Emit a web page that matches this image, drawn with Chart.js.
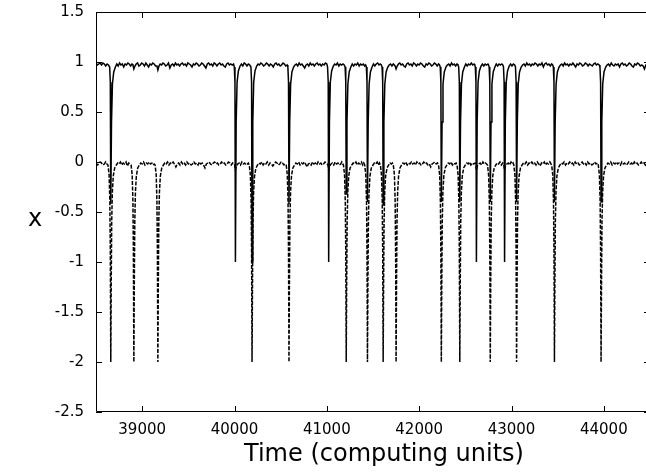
<!DOCTYPE html>
<html>
<head>
<meta charset="utf-8">
<script src="https://cdn.jsdelivr.net/npm/chart.js@4/dist/chart.umd.min.js"></script>
<style>
html,body{margin:0;padding:0;background:#fff;overflow:hidden;width:646px;height:472px;}
canvas{display:block;}
</style>
</head>
<body>
<canvas id="c" width="651" height="472"></canvas>
<script>
const xTicks = [39000, 40000, 41000, 42000, 43000, 44000];
const yTicks = [-2.5, -2, -1.5, -1, -0.5, 0, 0.5, 1, 1.5];
const xTitle = 'Time (computing units)';
const yTitle = 'x';

// solid curve (upper variable), [time, value]
const solidSeries = [
[38500,0.99],[38515,0.97],[38530,0.98],[38545,0.99],[38560,0.97],[38575,0.99],[38590,0.98],[38605,0.96],[38620,0.98],[38635,0.97],
[38648,0.95],[38655,0.8],[38660,-0.42],[38668,0.4],[38678,0.78],[38692,0.9],[38710,0.95],
[38725,0.98],[38740,0.96],[38755,0.99],[38770,0.97],[38785,0.98],[38800,0.95],[38815,0.98],[38830,0.97],[38845,0.99],[38860,0.98],[38875,0.96],[38890,0.98],
[38900,0.97],[38910,0.93],[38922,0.96],
[38935,0.98],[38950,0.99],[38965,0.96],[38980,0.97],[38995,0.99],[39010,0.98],[39025,0.96],[39040,0.99],[39055,0.97],[39070,0.95],[39085,0.98],[39100,0.97],[39115,0.99],[39130,0.98],[39145,0.96],
[39160,0.96],[39170,0.92],[39182,0.96],
[39195,0.98],[39210,0.97],[39225,0.99],[39240,0.98],[39255,0.96],[39270,0.97],[39285,0.99],[39300,0.94],[39315,0.97],[39330,0.98],[39345,0.96],[39360,0.99],[39375,0.97],[39390,0.98],[39405,0.96],[39420,0.98],[39435,0.99],[39450,0.97],[39465,0.98],[39480,0.96],[39495,0.99],[39510,0.98],[39525,0.97],[39540,0.95],[39555,0.98],[39570,0.97],[39585,0.99],[39600,0.98],[39615,0.96],[39630,0.97],[39645,0.99],[39660,0.98],[39675,0.96],[39690,0.94],[39705,0.98],[39720,0.99],[39735,0.97],[39750,0.98],[39765,0.96],[39780,0.99],[39795,0.98],[39810,0.96],[39825,0.98],[39840,0.99],[39855,0.97],[39870,0.98],[39885,0.96],[39900,0.95],[39915,0.98],[39930,0.99],[39945,0.97],[39960,0.98],[39975,0.97],[39990,0.98],
[39998,0.95],[40005,0.8],[40010,-1.0],[40018,0.4],[40028,0.8],[40042,0.91],[40060,0.96],
[40075,0.98],[40090,0.96],[40105,0.99],[40120,0.98],[40135,0.96],[40150,0.98],[40165,0.97],
[40178,0.95],[40185,0.8],[40190,-1.0],[40198,0.4],[40208,0.8],[40222,0.91],[40240,0.96],
[40255,0.98],[40270,0.97],[40285,0.99],[40300,0.98],[40315,0.96],[40330,0.97],[40345,0.99],[40360,0.98],[40375,0.96],[40390,0.98],[40405,0.97],[40420,0.95],[40435,0.98],[40450,0.99],[40465,0.97],[40480,0.98],[40495,0.96],[40510,0.97],[40525,0.99],[40540,0.98],[40555,0.96],[40570,0.97],
[40578,0.95],[40585,0.8],[40590,-0.42],[40598,0.4],[40608,0.78],[40622,0.9],[40640,0.95],
[40655,0.97],[40670,0.98],[40685,0.96],[40700,0.99],[40715,0.97],[40730,0.98],[40745,0.96],[40760,0.94],[40775,0.97],[40790,0.98],[40805,0.96],[40820,0.99],[40835,0.97],[40850,0.98],[40865,0.96],[40880,0.98],[40895,0.99],[40910,0.97],[40925,0.98],[40940,0.96],[40955,0.98],[40970,0.97],[40985,0.99],[41000,0.98],
[41008,0.95],[41015,0.8],[41020,-1.0],[41028,0.4],[41038,0.8],[41052,0.91],[41070,0.96],
[41085,0.98],[41100,0.97],[41115,0.99],[41130,0.96],[41145,0.98],[41160,0.97],[41175,0.98],[41188,0.97],
[41198,0.95],[41205,0.8],[41210,-0.32],[41218,0.4],[41228,0.78],[41242,0.9],[41260,0.95],
[41275,0.98],[41290,0.96],[41305,0.98],[41320,0.97],[41335,0.99],[41350,0.96],[41365,0.98],[41380,0.97],[41395,0.98],[41410,0.96],[41420,0.97],
[41428,0.95],[41435,0.8],[41440,-0.4],[41448,0.4],[41458,0.78],[41472,0.9],[41490,0.95],
[41505,0.98],[41520,0.96],[41535,0.98],[41550,0.99],[41565,0.97],[41578,0.98],[41590,0.97],
[41598,0.95],[41605,0.8],[41610,-0.43],[41618,0.4],[41628,0.78],[41642,0.9],[41660,0.95],
[41675,0.97],[41690,0.98],[41705,0.96],[41720,0.98],[41732,0.97],
[41740,0.96],[41750,0.93],[41762,0.96],
[41775,0.98],[41790,0.99],[41805,0.97],[41820,0.98],[41835,0.96],[41850,0.95],[41865,0.98],[41880,0.99],[41895,0.97],[41910,0.98],[41925,0.96],[41940,0.99],[41955,0.98],[41970,0.96],[41985,0.98],[42000,0.97],[42015,0.99],[42030,0.98],[42045,0.96],[42060,0.95],[42075,0.98],[42090,0.97],[42105,0.99],[42120,0.98],[42135,0.96],[42150,0.97],[42165,0.99],[42180,0.98],[42195,0.96],[42210,0.98],[42220,0.97],
[42228,0.95],[42235,0.8],[42240,-0.4],[42248,0.4],[42258,0.78],[42272,0.9],[42290,0.95],
[42305,0.97],[42320,0.98],[42335,0.96],[42350,0.99],[42365,0.97],[42380,0.98],[42395,0.96],[42410,0.98],[42420,0.97],
[42428,0.95],[42435,0.8],[42440,-0.4],[42448,0.4],[42458,0.78],[42472,0.9],[42490,0.95],
[42505,0.98],[42520,0.96],[42535,0.98],[42550,0.97],[42565,0.99],[42580,0.97],[42595,0.98],[42602,0.97],
[42608,0.95],[42615,0.8],[42620,-1.0],[42628,0.4],[42638,0.8],[42652,0.91],[42670,0.96],
[42685,0.98],[42700,0.96],[42715,0.98],[42730,0.97],[42745,0.98],[42752,0.97],
[42758,0.95],[42765,0.8],[42770,-0.4],[42778,0.4],[42788,0.78],[42802,0.9],[42820,0.95],
[42835,0.98],[42850,0.96],[42865,0.98],[42880,0.97],[42895,0.98],[42906,0.97],
[42913,0.95],[42920,0.8],[42925,-1.0],[42933,0.4],[42943,0.8],[42957,0.91],[42975,0.96],
[42990,0.98],[43005,0.96],[43020,0.98],[43035,0.97],
[43043,0.95],[43050,0.8],[43055,-0.4],[43063,0.4],[43073,0.78],[43087,0.9],[43105,0.95],
[43120,0.97],[43135,0.98],[43150,0.96],[43165,0.99],[43180,0.97],[43195,0.98],[43210,0.96],[43225,0.98],[43240,0.97],[43255,0.99],[43270,0.98],[43285,0.96],[43300,0.98],[43315,0.97],[43330,0.99],[43345,0.95],[43360,0.98],[43375,0.99],[43390,0.97],[43405,0.98],[43420,0.96],[43435,0.98],[43446,0.97],
[43453,0.95],[43460,0.8],[43465,-0.4],[43473,0.4],[43483,0.78],[43497,0.9],[43515,0.95],
[43530,0.97],[43545,0.98],[43560,0.96],[43575,0.99],[43590,0.97],[43605,0.98],[43620,0.96],[43635,0.98],[43650,0.97],[43665,0.99],[43680,0.97],[43695,0.95],[43710,0.98],[43725,0.97],[43740,0.99],[43755,0.98],[43770,0.96],[43785,0.97],[43800,0.99],[43815,0.98],[43830,0.96],[43845,0.98],[43860,0.97],[43875,0.96],[43890,0.98],[43905,0.99],[43920,0.97],[43935,0.98],[43950,0.97],
[43958,0.95],[43965,0.8],[43970,-0.4],[43978,0.4],[43988,0.78],[44002,0.9],[44020,0.95],
[44035,0.97],[44050,0.98],[44065,0.96],[44080,0.99],[44095,0.97],[44110,0.96],[44125,0.98],[44140,0.97],[44155,0.98],[44170,0.95],[44185,0.98],[44200,0.99],[44215,0.97],[44230,0.98],[44245,0.96],[44260,0.97],[44275,0.99],[44290,0.98],[44305,0.96],[44320,0.95],[44335,0.98],[44350,0.97],[44365,0.99],[44380,0.98],[44395,0.96],[44410,0.97],[44425,0.96],[44440,0.93],[44455,0.97],[44470,0.98],[44485,0.97],[44500,0.98]
];

// dashed curve (lower variable), [time, value]
const dashedSeries = [
[38500,-0.01],[38515,-0.03],[38530,-0.02],[38545,0.0],[38560,-0.01],[38575,-0.03],[38590,-0.02],[38605,0.0],[38618,-0.02],
[38630,-0.03],[38642,-0.13],[38650,-0.4],[38655,-0.9],[38660,-2.0],[38665,-1.2],[38670,-0.6],[38677,-0.3],[38687,-0.14],[38702,-0.06],[38720,-0.03],
[38735,-0.01],[38750,-0.02],[38765,0.0],[38780,-0.03],[38795,-0.01],[38810,-0.02],[38825,0.0],[38840,-0.04],[38855,-0.01],[38868,-0.02],
[38880,-0.03],[38892,-0.13],[38900,-0.4],[38905,-0.9],[38910,-2.0],[38915,-1.2],[38920,-0.6],[38927,-0.3],[38937,-0.14],[38952,-0.06],[38970,-0.03],
[38985,-0.01],[39000,-0.02],[39015,0.0],[39030,-0.03],[39045,-0.01],[39060,-0.02],[39075,0.0],[39090,-0.02],[39105,-0.01],[39118,-0.03],[39130,-0.02],
[39140,-0.03],[39152,-0.13],[39160,-0.4],[39165,-0.9],[39170,-2.0],[39175,-1.2],[39180,-0.6],[39187,-0.3],[39197,-0.14],[39212,-0.06],[39230,-0.03],
[39245,-0.01],[39260,-0.02],[39275,0.0],[39290,-0.03],[39305,-0.01],[39320,-0.02],[39335,0.0],[39350,-0.02],[39365,-0.05],[39380,-0.02],[39395,-0.01],[39410,-0.03],[39425,0.0],[39440,-0.02],[39455,-0.01],[39470,-0.03],[39485,0.0],[39500,-0.02],[39515,-0.01],[39530,-0.03],[39545,-0.02],[39560,0.0],[39575,-0.02],[39590,-0.01],[39605,-0.03],[39620,0.0],[39635,-0.02],[39650,-0.01],[39665,-0.03],[39680,-0.06],[39695,-0.02],[39710,-0.01],[39725,0.0],[39740,-0.02],[39755,-0.03],[39770,-0.01],[39785,0.0],[39800,-0.02],[39815,-0.01],[39830,-0.03],[39845,-0.02],[39860,0.0],[39875,-0.02],[39890,-0.01],[39905,-0.03],[39920,-0.02],[39935,0.0],[39950,-0.01],[39965,-0.03],[39980,-0.01],[39992,-0.02],
[40000,-0.02],[40010,-0.08],[40020,-0.04],
[40035,-0.02],[40050,-0.01],[40065,-0.03],[40080,0.0],[40095,-0.02],[40110,-0.01],[40125,-0.03],[40140,-0.02],[40150,-0.01],
[40160,-0.03],[40172,-0.13],[40180,-0.4],[40185,-0.9],[40190,-2.0],[40195,-1.2],[40200,-0.6],[40207,-0.3],[40217,-0.14],[40232,-0.06],[40250,-0.03],
[40265,-0.01],[40280,-0.02],[40295,0.0],[40310,-0.03],[40325,-0.01],[40340,-0.02],[40355,0.0],[40370,-0.03],[40385,-0.01],[40400,-0.02],[40415,-0.04],[40430,-0.02],[40445,0.0],[40460,-0.01],[40475,-0.03],[40490,-0.02],[40505,0.0],[40520,-0.01],[40535,-0.03],[40548,-0.02],
[40560,-0.03],[40572,-0.13],[40580,-0.4],[40585,-0.9],[40590,-2.0],[40595,-1.2],[40600,-0.6],[40607,-0.3],[40617,-0.14],[40632,-0.06],[40650,-0.03],
[40665,-0.01],[40680,-0.02],[40695,0.0],[40710,-0.03],[40725,-0.01],[40740,-0.02],[40755,0.0],[40770,-0.02],[40785,-0.05],[40800,-0.02],[40815,-0.01],[40830,-0.03],[40845,0.0],[40860,-0.02],[40875,-0.01],[40890,-0.03],[40905,0.0],[40920,-0.02],[40935,-0.01],[40950,-0.03],[40965,-0.02],[40980,0.0],[40995,-0.01],[41005,-0.02],
[41012,-0.03],[41020,-0.08],[41030,-0.04],
[41045,-0.02],[41060,-0.01],[41075,-0.03],[41090,0.0],[41105,-0.02],[41120,-0.01],[41135,-0.03],[41150,-0.02],[41162,0.0],[41172,-0.02],
[41180,-0.03],[41192,-0.13],[41200,-0.4],[41205,-0.9],[41210,-2.0],[41215,-1.2],[41220,-0.6],[41227,-0.3],[41237,-0.14],[41252,-0.06],[41270,-0.03],
[41285,-0.01],[41300,-0.02],[41315,0.0],[41330,-0.03],[41345,-0.01],[41360,-0.02],[41375,0.0],[41388,-0.03],[41400,-0.01],
[41410,-0.03],[41422,-0.13],[41430,-0.4],[41435,-0.9],[41440,-2.0],[41445,-1.2],[41450,-0.6],[41457,-0.3],[41467,-0.14],[41482,-0.06],[41500,-0.03],
[41515,-0.01],[41530,-0.02],[41545,0.0],[41558,-0.03],[41570,-0.01],
[41580,-0.03],[41592,-0.13],[41600,-0.4],[41605,-0.9],[41610,-2.0],[41615,-1.2],[41620,-0.6],[41627,-0.3],[41637,-0.14],[41652,-0.06],[41670,-0.03],
[41685,-0.01],[41698,-0.02],[41710,-0.01],
[41720,-0.03],[41732,-0.13],[41740,-0.4],[41745,-0.9],[41750,-2.0],[41755,-1.2],[41760,-0.6],[41767,-0.3],[41777,-0.14],[41792,-0.06],[41810,-0.03],
[41825,-0.01],[41840,-0.02],[41855,0.0],[41870,-0.03],[41885,-0.01],[41900,-0.02],[41915,0.0],[41930,-0.02],[41945,-0.01],[41960,-0.03],[41975,0.0],[41990,-0.02],[42005,-0.01],[42020,-0.03],[42035,-0.02],[42050,0.0],[42065,-0.02],[42080,-0.01],[42095,-0.03],[42110,-0.02],[42125,-0.05],[42140,-0.02],[42155,-0.01],[42170,0.0],[42185,-0.02],[42198,-0.01],
[42210,-0.03],[42222,-0.13],[42230,-0.4],[42235,-0.9],[42240,-2.0],[42245,-1.2],[42250,-0.6],[42257,-0.3],[42267,-0.14],[42282,-0.06],[42300,-0.03],
[42315,-0.01],[42330,-0.02],[42345,0.0],[42360,-0.03],[42375,-0.01],[42388,-0.02],[42400,-0.01],
[42410,-0.03],[42422,-0.13],[42430,-0.4],[42435,-0.9],[42440,-2.0],[42445,-1.2],[42450,-0.6],[42457,-0.3],[42467,-0.14],[42482,-0.06],[42500,-0.03],
[42515,-0.01],[42530,-0.02],[42545,0.0],[42560,-0.03],[42575,-0.01],[42590,-0.02],[42605,-0.01],[42612,-0.02],
[42620,-0.08],[42630,-0.04],
[42645,-0.02],[42660,-0.01],[42675,-0.03],[42690,0.0],[42705,-0.02],[42718,-0.01],[42730,-0.02],
[42740,-0.03],[42752,-0.13],[42760,-0.4],[42765,-0.9],[42770,-2.0],[42775,-1.2],[42780,-0.6],[42787,-0.3],[42797,-0.14],[42812,-0.06],[42830,-0.03],
[42845,-0.01],[42860,-0.02],[42875,0.0],[42890,-0.03],[42905,-0.01],[42915,-0.02],
[42925,-0.08],[42935,-0.04],
[42950,-0.02],[42965,-0.01],[42980,-0.03],[42995,0.0],[43008,-0.02],[43017,-0.01],
[43025,-0.03],[43037,-0.13],[43045,-0.4],[43050,-0.9],[43055,-2.0],[43060,-1.2],[43065,-0.6],[43072,-0.3],[43082,-0.14],[43097,-0.06],[43115,-0.03],
[43130,-0.01],[43145,-0.02],[43160,0.0],[43175,-0.03],[43190,-0.01],[43205,-0.02],[43220,0.0],[43235,-0.02],[43250,-0.01],[43265,-0.03],[43280,0.0],[43295,-0.02],[43310,-0.04],[43325,-0.01],[43340,-0.02],[43355,0.0],[43370,-0.03],[43385,-0.01],[43400,-0.02],[43415,0.0],[43428,-0.02],
[43435,-0.03],[43447,-0.13],[43455,-0.4],[43460,-0.9],[43465,-2.0],[43470,-1.2],[43475,-0.6],[43482,-0.3],[43492,-0.14],[43507,-0.06],[43525,-0.03],
[43540,-0.01],[43555,-0.02],[43570,0.0],[43585,-0.03],[43600,-0.01],[43615,-0.02],[43630,0.0],[43645,-0.02],[43660,-0.01],[43675,-0.03],[43690,0.0],[43705,-0.02],[43720,-0.01],[43735,-0.03],[43750,-0.02],[43765,0.0],[43780,-0.02],[43795,-0.01],[43810,-0.03],[43825,0.0],[43840,-0.02],[43855,-0.01],[43870,-0.03],[43885,-0.02],[43900,0.0],[43915,-0.02],[43930,-0.01],
[43940,-0.03],[43952,-0.13],[43960,-0.4],[43965,-0.9],[43970,-2.0],[43975,-1.2],[43980,-0.6],[43987,-0.3],[43997,-0.14],[44012,-0.06],[44030,-0.03],
[44045,-0.01],[44060,-0.02],[44075,0.0],[44090,-0.03],[44105,-0.01],[44120,-0.02],[44135,0.0],[44150,-0.02],[44165,-0.01],[44180,-0.03],[44195,0.0],[44210,-0.02],[44225,-0.01],[44240,-0.03],[44255,-0.02],[44270,0.0],[44285,-0.02],[44300,-0.01],[44315,-0.03],[44330,0.0],[44345,-0.02],[44360,-0.01],[44375,-0.03],[44390,-0.02],[44405,0.0],[44420,-0.02],[44435,-0.01],[44450,-0.03],[44465,0.0],[44480,-0.02],[44500,-0.01]
];

const FONT = "'DejaVu Sans', sans-serif";

const framePlugin = {
  id: 'frameTicks',
  afterDraw(chart) {
    const {ctx, chartArea: a, scales} = chart;
    ctx.save();
    ctx.strokeStyle = '#000';
    ctx.lineWidth = 1;
    ctx.beginPath();
    ctx.rect(a.left + 0.5, a.top + 0.5, a.right - a.left - 1, a.bottom - a.top - 1);
    const L = 6;
    xTicks.forEach(v => {
      const px = Math.round(scales.x.getPixelForValue(v)) + 0.5;
      ctx.moveTo(px, a.bottom); ctx.lineTo(px, a.bottom - L);
      ctx.moveTo(px, a.top); ctx.lineTo(px, a.top + L);
    });
    yTicks.forEach(v => {
      const py = Math.round(scales.y.getPixelForValue(v)) + 0.5;
      ctx.moveTo(a.left, py); ctx.lineTo(a.left + L, py);
      ctx.moveTo(a.right, py); ctx.lineTo(a.right - L, py);
    });
    ctx.stroke();
    ctx.fillStyle = '#000';
    ctx.font = '24px ' + FONT;
    ctx.textAlign = 'center';
    ctx.textBaseline = 'alphabetic';
    ctx.fillText(xTitle, 384, 461);
    ctx.fillText(yTitle, 35, 226);
    ctx.restore();
  }
};

new Chart(document.getElementById('c'), {
  type: 'line',
  data: {
    datasets: [
      {
        label: 'solid',
        data: solidSeries.map(p => ({x: p[0], y: p[1]})),
        borderColor: '#000',
        borderWidth: 1.5,
        pointRadius: 0,
        tension: 0,
        fill: false
      },
      {
        label: 'dashed',
        data: dashedSeries.map(p => ({x: p[0], y: p[1]})),
        borderColor: '#000',
        borderWidth: 1.5,
        borderDash: [4, 1.5],
        pointRadius: 0,
        tension: 0,
        fill: false
      }
    ]
  },
  options: {
    responsive: false,
    animation: false,
    layout: {padding: {top: 12, right: 1, bottom: 0, left: 0}},
    plugins: {legend: {display: false}, tooltip: {enabled: false}},
    scales: {
      x: {
        type: 'linear',
        min: 38500,
        max: 44500,
        afterBuildTicks: s => { s.ticks = xTicks.map(v => ({value: v})); },
        afterFit: s => { s.height = 60; s.paddingLeft = 0; s.paddingRight = 0; },
        grid: {display: false, drawTicks: false},
        border: {display: false},
        ticks: {color: '#000', font: {family: FONT, size: 15}, padding: 9, maxRotation: 0,
                callback: v => String(v)}
      },
      y: {
        type: 'linear',
        min: -2.5,
        max: 1.5,
        afterBuildTicks: s => { s.ticks = yTicks.map(v => ({value: v})); },
        afterFit: s => { s.width = 96; s.paddingTop = 0; s.paddingBottom = 0; },
        grid: {display: false, drawTicks: false},
        border: {display: false},
        ticks: {color: '#000', font: {family: FONT, size: 15}, padding: 12,
                callback: v => String(v)}
      }
    }
  },
  plugins: [framePlugin]
});
</script>
</body>
</html>
